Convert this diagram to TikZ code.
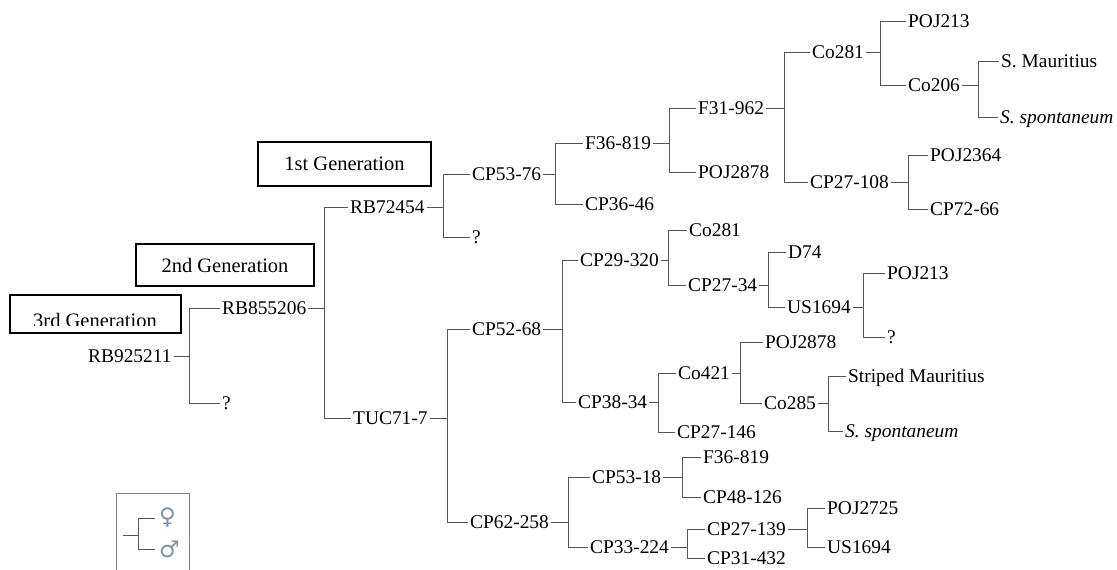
\documentclass[tikz,border=0pt]{standalone}
\usepackage{fontspec}
\setmainfont{Liberation Serif}
\newfontfamily\symfont{DejaVu Sans}
\definecolor{linegray}{HTML}{555555}
\definecolor{symblue}{HTML}{7C93AD}
\tikzset{
  cv/.style={anchor=west, inner xsep=2pt, inner ysep=0pt, text height=12.8pt, text depth=0pt,
    font=\fontsize{19.4}{23}\selectfont},
  tree/.style={draw=linegray, line width=0.9pt},
  genbox/.style={draw, line width=1.8pt, inner sep=0pt, font=\fontsize{20.5}{24}\selectfont},
  sexsym/.style={anchor=west, inner xsep=4pt, inner ysep=0pt, text=symblue,
    font=\symfont\fontsize{23}{26}\selectfont}
}
\begin{document}
\begin{tikzpicture}[x=1pt, y=-1pt]
\useasboundingbox (0,0) rectangle (1117,570);

% generation labels
\node[genbox, minimum width=173, minimum height=44] (G1) at (344.5,164) {1st Generation};
\node[genbox, minimum width=178, minimum height=42] (G2) at (225,265) {2nd Generation};
\begin{scope}
  \clip (10,290) rectangle (181,325);
  \node[anchor=base, font=\fontsize{20.5}{24}\selectfont] (G3t) at (95,327) {3rd Generation};
\end{scope}
\draw[line width=1.8pt] (10,295) rectangle (181,333);

% cultivars
\node[cv] (root) at (86,356) {RB925211};
\node[cv] (rb855) at (220,308) {RB855206};
\node[cv] (q1) at (220,403) {?};
\node[cv] (rb724) at (348,207) {RB72454};
\node[cv] (tuc) at (351,418) {TUC71-7};
\node[cv] (cp5376) at (470,174) {CP53-76};
\node[cv] (q2) at (470,237) {?};
\node[cv] (f36a) at (583,143) {F36-819};
\node[cv] (cp3646) at (583,204) {CP36-46};
\node[cv] (f31) at (696,108) {F31-962};
\node[cv] (poj2878a) at (696,172) {POJ2878};
\node[cv] (co281a) at (810,52) {Co281};
\node[cv] (cp27108) at (808,182) {CP27-108};
\node[cv] (poj213a) at (906,21) {POJ213};
\node[cv] (co206) at (906,85) {Co206};
\node[cv] (smaur) at (999,61) {S. Mauritius};
\node[cv] (sspa) at (998,117) {\itshape S. spontaneum};
\node[cv] (poj2364) at (928,155) {POJ2364};
\node[cv] (cp7266) at (928,209) {CP72-66};
\node[cv] (cp5268) at (470,329) {CP52-68};
\node[cv] (cp62258) at (468,522) {CP62-258};
\node[cv] (cp29320) at (578,260) {CP29-320};
\node[cv] (cp3834) at (576,402) {CP38-34};
\node[cv] (co281b) at (687,230) {Co281};
\node[cv] (cp2734) at (686,285) {CP27-34};
\node[cv] (d74) at (786,252) {D74};
\node[cv] (us1694a) at (785,307) {US1694};
\node[cv] (poj213b) at (885,273) {POJ213};
\node[cv] (q3) at (885,337) {?};
\node[cv] (co421) at (676,373) {Co421};
\node[cv] (cp27146) at (675,432) {CP27-146};
\node[cv] (poj2878b) at (763,342) {POJ2878};
\node[cv] (co285) at (762,403) {Co285};
\node[cv] (strmaur) at (846,376) {Striped Mauritius};
\node[cv] (sspb) at (843,431) {\itshape S. spontaneum};
\node[cv] (cp5318) at (590,477) {CP53-18};
\node[cv] (cp33224) at (588,547) {CP33-224};
\node[cv] (f36b) at (701,457) {F36-819};
\node[cv] (cp48126) at (701,497) {CP48-126};
\node[cv] (cp27139) at (705,529) {CP27-139};
\node[cv] (cp31432) at (705,558) {CP31-432};
\node[cv] (poj2725) at (825,508) {POJ2725};
\node[cv] (us1694b) at (825,547) {US1694};

% parent -> female (top), male (bottom)
\foreach \p/\x/\a/\b in {root/189/rb855/q1, rb855/324/rb724/tuc, rb724/443/cp5376/q2,
    tuc/447/cp5268/cp62258, cp5376/555/f36a/cp3646, f36a/669/f31/poj2878a,
    f31/784/co281a/cp27108, co281a/880/poj213a/co206, co206/978/smaur/sspa,
    cp27108/908/poj2364/cp7266, cp5268/562/cp29320/cp3834, cp29320/668/co281b/cp2734,
    cp2734/768/d74/us1694a, us1694a/863/poj213b/q3, cp3834/658/co421/cp27146,
    co421/740/poj2878b/co285, co285/828/strmaur/sspb, cp62258/568/cp5318/cp33224,
    cp5318/682/f36b/cp48126, cp33224/687/cp27139/cp31432, cp27139/807/poj2725/us1694b}
{
    \draw[tree] (\p.east) -- (\x,0 |- \p.east) |- (\a.west);
    \draw[tree] (\x,0 |- \p.east) |- (\b.west);
}

% legend
\draw[draw=gray, line width=1pt] (116,570) |- (189,493) -- (189,570);
\node[sexsym] (fem) at (155,518) {♀};
\node[sexsym] (mal) at (155,549) {♂};
\coordinate (lg) at (123,535);
\draw[tree] (lg) -- (138,535) |- (fem.west);
\draw[tree] (138,535) |- (mal.west);

\end{tikzpicture}
\end{document}
